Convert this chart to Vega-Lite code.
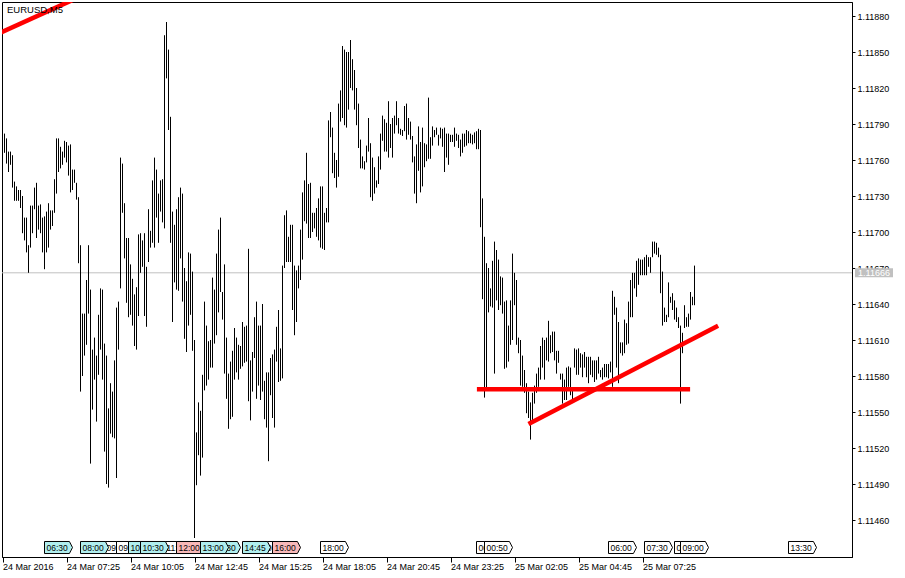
{
"$schema":"https://vega.github.io/schema/vega-lite/v6.json",
"width":850,"height":555,"autosize":"none",
"padding":{"left":2,"top":2,"right":53,"bottom":21},
"background":"white",
"config":{"view":{"stroke":"black","strokeWidth":1},"font":"Liberation Sans",
"axis":{"labelFont":"Liberation Sans","labelFontSize":9,"labelColor":"black","domainColor":"black","tickColor":"black","grid":false,"labelOverlap":false}},
"title":{"text":"EURUSD,M5","anchor":"start","frame":"group","offset":-12,"fontSize":9.5,"fontWeight":"normal","font":"Liberation Sans","color":"black","dx":5},
"datasets":{
"bars":[
{"t":"2016-03-24 04:45","h":1.11782,"l":1.11766},{"t":"2016-03-24 04:50","h":1.11778,"l":1.11757},{"t":"2016-03-24 04:55","h":1.11767,"l":1.1175},{"t":"2016-03-24 05:00","h":1.11767,"l":1.11756},{"t":"2016-03-24 05:05","h":1.11764,"l":1.11737},{"t":"2016-03-24 05:10","h":1.11742,"l":1.11726},{"t":"2016-03-24 05:15","h":1.11738,"l":1.11726},{"t":"2016-03-24 05:20","h":1.11735,"l":1.11726},{"t":"2016-03-24 05:25","h":1.11735,"l":1.1172},{"t":"2016-03-24 05:30","h":1.1173,"l":1.11699},
{"t":"2016-03-24 05:35","h":1.11712,"l":1.11693},{"t":"2016-03-24 05:40","h":1.11712,"l":1.11683},{"t":"2016-03-24 05:45","h":1.11689,"l":1.11666},{"t":"2016-03-24 05:50","h":1.11722,"l":1.11687},{"t":"2016-03-24 05:55","h":1.11722,"l":1.11699},{"t":"2016-03-24 06:00","h":1.11737,"l":1.11719},{"t":"2016-03-24 06:05","h":1.11741,"l":1.11695},{"t":"2016-03-24 06:10","h":1.11722,"l":1.11702},{"t":"2016-03-24 06:15","h":1.11723,"l":1.11699},{"t":"2016-03-24 06:20","h":1.11712,"l":1.11683},
{"t":"2016-03-24 06:25","h":1.11713,"l":1.11669},{"t":"2016-03-24 06:30","h":1.11717,"l":1.11683},{"t":"2016-03-24 06:35","h":1.11724,"l":1.11687},{"t":"2016-03-24 06:40","h":1.11718,"l":1.11702},{"t":"2016-03-24 06:45","h":1.11718,"l":1.11705},{"t":"2016-03-24 06:50","h":1.11744,"l":1.11716},{"t":"2016-03-24 06:55","h":1.11778,"l":1.11732},{"t":"2016-03-24 07:00","h":1.11778,"l":1.1175},{"t":"2016-03-24 07:05","h":1.11771,"l":1.11753},{"t":"2016-03-24 07:10","h":1.11767,"l":1.11756},
{"t":"2016-03-24 07:15","h":1.11776,"l":1.11762},{"t":"2016-03-24 07:20","h":1.11775,"l":1.11758},{"t":"2016-03-24 07:25","h":1.11772,"l":1.11747},{"t":"2016-03-24 07:30","h":1.11773,"l":1.11733},{"t":"2016-03-24 07:35","h":1.11752,"l":1.11735},{"t":"2016-03-24 07:40","h":1.11752,"l":1.11741},{"t":"2016-03-24 07:45","h":1.11741,"l":1.11727},{"t":"2016-03-24 07:50","h":1.11729,"l":1.11674},{"t":"2016-03-24 07:55","h":1.11689,"l":1.11567},{"t":"2016-03-24 08:00","h":1.11632,"l":1.1158},
{"t":"2016-03-24 08:05","h":1.11632,"l":1.11597},{"t":"2016-03-24 08:10","h":1.1166,"l":1.11606},{"t":"2016-03-24 08:15","h":1.11689,"l":1.11632},{"t":"2016-03-24 08:20","h":1.11652,"l":1.11507},{"t":"2016-03-24 08:25","h":1.11602,"l":1.11552},{"t":"2016-03-24 08:30","h":1.11612,"l":1.11577},{"t":"2016-03-24 08:35","h":1.11597,"l":1.11542},{"t":"2016-03-24 08:40","h":1.11631,"l":1.11581},{"t":"2016-03-24 08:45","h":1.11653,"l":1.11602},{"t":"2016-03-24 08:50","h":1.11652,"l":1.11577},
{"t":"2016-03-24 08:55","h":1.11607,"l":1.11517},{"t":"2016-03-24 09:00","h":1.11597,"l":1.1149},{"t":"2016-03-24 09:05","h":1.11553,"l":1.11487},{"t":"2016-03-24 09:10","h":1.11574,"l":1.11532},{"t":"2016-03-24 09:15","h":1.11567,"l":1.11529},{"t":"2016-03-24 09:20","h":1.11593,"l":1.11528},{"t":"2016-03-24 09:25","h":1.11637,"l":1.11495},{"t":"2016-03-24 09:30","h":1.11642,"l":1.11602},{"t":"2016-03-24 09:35","h":1.11762,"l":1.11653},{"t":"2016-03-24 09:40","h":1.11757,"l":1.11716},
{"t":"2016-03-24 09:45","h":1.11724,"l":1.11678},{"t":"2016-03-24 09:50","h":1.11695,"l":1.11641},{"t":"2016-03-24 09:55","h":1.11695,"l":1.11629},{"t":"2016-03-24 10:00","h":1.11673,"l":1.11631},{"t":"2016-03-24 10:05","h":1.11661,"l":1.11622},{"t":"2016-03-24 10:10","h":1.11648,"l":1.11605},{"t":"2016-03-24 10:15","h":1.11654,"l":1.11602},{"t":"2016-03-24 10:20","h":1.11698,"l":1.1163},{"t":"2016-03-24 10:25","h":1.11699,"l":1.11666},{"t":"2016-03-24 10:30","h":1.11693,"l":1.11671},
{"t":"2016-03-24 10:35","h":1.11699,"l":1.1163},{"t":"2016-03-24 10:40","h":1.11671,"l":1.11621},{"t":"2016-03-24 10:45","h":1.11719,"l":1.11675},{"t":"2016-03-24 10:50","h":1.11701,"l":1.11687},{"t":"2016-03-24 10:55","h":1.11743,"l":1.11691},{"t":"2016-03-24 11:00","h":1.11762,"l":1.11687},{"t":"2016-03-24 11:05","h":1.11752,"l":1.11712},{"t":"2016-03-24 11:10","h":1.11732,"l":1.11691},{"t":"2016-03-24 11:15","h":1.11743,"l":1.11717},{"t":"2016-03-24 11:20","h":1.11744,"l":1.11708},
{"t":"2016-03-24 11:25","h":1.11864,"l":1.11703},{"t":"2016-03-24 11:30","h":1.11875,"l":1.11828},{"t":"2016-03-24 11:35","h":1.11852,"l":1.11785},{"t":"2016-03-24 11:40","h":1.11796,"l":1.11691},{"t":"2016-03-24 11:45","h":1.11717,"l":1.11625},{"t":"2016-03-24 11:50","h":1.11706,"l":1.11658},{"t":"2016-03-24 11:55","h":1.11719,"l":1.11652},{"t":"2016-03-24 12:00","h":1.11729,"l":1.11651},{"t":"2016-03-24 12:05","h":1.11737,"l":1.11678},{"t":"2016-03-24 12:10","h":1.11732,"l":1.11642},
{"t":"2016-03-24 12:15","h":1.1167,"l":1.11611},{"t":"2016-03-24 12:20","h":1.11659,"l":1.116},{"t":"2016-03-24 12:25","h":1.11683,"l":1.11622},{"t":"2016-03-24 12:30","h":1.11682,"l":1.11631},{"t":"2016-03-24 12:35","h":1.11667,"l":1.11601},{"t":"2016-03-24 12:40","h":1.1161,"l":1.11445},{"t":"2016-03-24 12:45","h":1.11533,"l":1.11489},{"t":"2016-03-24 12:50","h":1.11558,"l":1.11514},{"t":"2016-03-24 12:55","h":1.11551,"l":1.11497},{"t":"2016-03-24 13:00","h":1.11581,"l":1.11512},
{"t":"2016-03-24 13:05","h":1.11642,"l":1.11568},{"t":"2016-03-24 13:10","h":1.11622,"l":1.11572},{"t":"2016-03-24 13:15","h":1.11609,"l":1.11577},{"t":"2016-03-24 13:20","h":1.1161,"l":1.11587},{"t":"2016-03-24 13:25","h":1.11662,"l":1.11587},{"t":"2016-03-24 13:30","h":1.11652,"l":1.11607},{"t":"2016-03-24 13:35","h":1.11682,"l":1.11614},{"t":"2016-03-24 13:40","h":1.11702,"l":1.11633},{"t":"2016-03-24 13:45","h":1.11712,"l":1.1165},{"t":"2016-03-24 13:50","h":1.1165,"l":1.11627},
{"t":"2016-03-24 13:55","h":1.11673,"l":1.11582},{"t":"2016-03-24 14:00","h":1.11612,"l":1.11561},{"t":"2016-03-24 14:05","h":1.11582,"l":1.11536},{"t":"2016-03-24 14:10","h":1.11592,"l":1.11544},{"t":"2016-03-24 14:15","h":1.11601,"l":1.11546},{"t":"2016-03-24 14:20","h":1.1162,"l":1.11577},{"t":"2016-03-24 14:25","h":1.11612,"l":1.11583},{"t":"2016-03-24 14:30","h":1.11606,"l":1.11577},{"t":"2016-03-24 14:35","h":1.11605,"l":1.11586},{"t":"2016-03-24 14:40","h":1.11625,"l":1.11588},
{"t":"2016-03-24 14:45","h":1.11621,"l":1.11591},{"t":"2016-03-24 14:50","h":1.11622,"l":1.11592},{"t":"2016-03-24 14:55","h":1.11686,"l":1.11559},{"t":"2016-03-24 15:00","h":1.11593,"l":1.11543},{"t":"2016-03-24 15:05","h":1.116,"l":1.11567},{"t":"2016-03-24 15:10","h":1.11629,"l":1.11595},{"t":"2016-03-24 15:15","h":1.11642,"l":1.11561},{"t":"2016-03-24 15:20","h":1.11622,"l":1.11572},{"t":"2016-03-24 15:25","h":1.11622,"l":1.1156},{"t":"2016-03-24 15:30","h":1.1164,"l":1.11567},
{"t":"2016-03-24 15:35","h":1.11576,"l":1.11544},{"t":"2016-03-24 15:40","h":1.11583,"l":1.11537},{"t":"2016-03-24 15:45","h":1.11583,"l":1.11509},{"t":"2016-03-24 15:50","h":1.11595,"l":1.11564},{"t":"2016-03-24 15:55","h":1.11598,"l":1.11545},{"t":"2016-03-24 16:00","h":1.11602,"l":1.11537},{"t":"2016-03-24 16:05","h":1.11621,"l":1.11592},{"t":"2016-03-24 16:10","h":1.11635,"l":1.11575},{"t":"2016-03-24 16:15","h":1.11603,"l":1.11576},{"t":"2016-03-24 16:20","h":1.11672,"l":1.11578},
{"t":"2016-03-24 16:25","h":1.11714,"l":1.1167},{"t":"2016-03-24 16:30","h":1.11718,"l":1.11675},{"t":"2016-03-24 16:35","h":1.11696,"l":1.11675},{"t":"2016-03-24 16:40","h":1.11706,"l":1.11675},{"t":"2016-03-24 16:45","h":1.11706,"l":1.11635},{"t":"2016-03-24 16:50","h":1.11672,"l":1.11614},{"t":"2016-03-24 16:55","h":1.11668,"l":1.11625},{"t":"2016-03-24 17:00","h":1.11672,"l":1.11653},{"t":"2016-03-24 17:05","h":1.11702,"l":1.1166},{"t":"2016-03-24 17:10","h":1.11733,"l":1.11677},
{"t":"2016-03-24 17:15","h":1.11743,"l":1.11709},{"t":"2016-03-24 17:20","h":1.11766,"l":1.11707},{"t":"2016-03-24 17:25","h":1.1174,"l":1.11695},{"t":"2016-03-24 17:30","h":1.11741,"l":1.11695},{"t":"2016-03-24 17:35","h":1.11716,"l":1.117},{"t":"2016-03-24 17:40","h":1.11716,"l":1.11703},{"t":"2016-03-24 17:45","h":1.1172,"l":1.11696},{"t":"2016-03-24 17:50","h":1.11728,"l":1.11693},{"t":"2016-03-24 17:55","h":1.11738,"l":1.11687},{"t":"2016-03-24 18:00","h":1.11738,"l":1.11686},
{"t":"2016-03-24 18:05","h":1.11716,"l":1.11685},{"t":"2016-03-24 18:10","h":1.1172,"l":1.11708},{"t":"2016-03-24 18:15","h":1.11793,"l":1.11708},{"t":"2016-03-24 18:20","h":1.118,"l":1.11779},{"t":"2016-03-24 18:25","h":1.11787,"l":1.11749},{"t":"2016-03-24 18:30","h":1.11766,"l":1.11745},{"t":"2016-03-24 18:35","h":1.1176,"l":1.11737},{"t":"2016-03-24 18:40","h":1.11807,"l":1.11746},{"t":"2016-03-24 18:45","h":1.11818,"l":1.11792},{"t":"2016-03-24 18:50","h":1.11855,"l":1.11795},
{"t":"2016-03-24 18:55","h":1.11852,"l":1.11789},{"t":"2016-03-24 19:00","h":1.1185,"l":1.11787},{"t":"2016-03-24 19:05","h":1.1185,"l":1.11802},{"t":"2016-03-24 19:10","h":1.1186,"l":1.1182},{"t":"2016-03-24 19:15","h":1.11844,"l":1.11818},{"t":"2016-03-24 19:20","h":1.11835,"l":1.11802},{"t":"2016-03-24 19:25","h":1.1182,"l":1.11789},{"t":"2016-03-24 19:30","h":1.11807,"l":1.1177},{"t":"2016-03-24 19:35","h":1.11777,"l":1.11753},{"t":"2016-03-24 19:40","h":1.11763,"l":1.11753},
{"t":"2016-03-24 19:45","h":1.11759,"l":1.11752},{"t":"2016-03-24 19:50","h":1.11772,"l":1.11758},{"t":"2016-03-24 19:55","h":1.11795,"l":1.11767},{"t":"2016-03-24 20:00","h":1.11774,"l":1.11729},{"t":"2016-03-24 20:05","h":1.11762,"l":1.11726},{"t":"2016-03-24 20:10","h":1.11754,"l":1.11732},{"t":"2016-03-24 20:15","h":1.11743,"l":1.11737},{"t":"2016-03-24 20:20","h":1.11763,"l":1.1174},{"t":"2016-03-24 20:25","h":1.11782,"l":1.11752},{"t":"2016-03-24 20:30","h":1.11797,"l":1.11776},
{"t":"2016-03-24 20:35","h":1.11794,"l":1.11767},{"t":"2016-03-24 20:40","h":1.11791,"l":1.11767},{"t":"2016-03-24 20:45","h":1.11809,"l":1.11762},{"t":"2016-03-24 20:50","h":1.1179,"l":1.1177},{"t":"2016-03-24 20:55","h":1.11795,"l":1.11762},{"t":"2016-03-24 21:00","h":1.11797,"l":1.11782},{"t":"2016-03-24 21:05","h":1.11809,"l":1.11789},{"t":"2016-03-24 21:10","h":1.11795,"l":1.11782},{"t":"2016-03-24 21:15","h":1.11786,"l":1.11781},{"t":"2016-03-24 21:20","h":1.11785,"l":1.1178},
{"t":"2016-03-24 21:25","h":1.11805,"l":1.11784},{"t":"2016-03-24 21:30","h":1.11807,"l":1.11777},{"t":"2016-03-24 21:35","h":1.11795,"l":1.11781},{"t":"2016-03-24 21:40","h":1.11792,"l":1.11777},{"t":"2016-03-24 21:45","h":1.1178,"l":1.11758},{"t":"2016-03-24 21:50","h":1.11763,"l":1.11732},{"t":"2016-03-24 21:55","h":1.11773,"l":1.11724},{"t":"2016-03-24 22:00","h":1.11788,"l":1.11751},{"t":"2016-03-24 22:05","h":1.11775,"l":1.11733},{"t":"2016-03-24 22:10","h":1.11787,"l":1.11738},
{"t":"2016-03-24 22:15","h":1.11774,"l":1.11754},{"t":"2016-03-24 22:20","h":1.11773,"l":1.11759},{"t":"2016-03-24 22:25","h":1.11812,"l":1.11761},{"t":"2016-03-24 22:30","h":1.11779,"l":1.11761},{"t":"2016-03-24 22:35","h":1.11788,"l":1.11772},{"t":"2016-03-24 22:40","h":1.11785,"l":1.11779},{"t":"2016-03-24 22:45","h":1.11787,"l":1.11781},{"t":"2016-03-24 22:50","h":1.11781,"l":1.11772},{"t":"2016-03-24 22:55","h":1.11787,"l":1.11778},{"t":"2016-03-24 23:00","h":1.11786,"l":1.11771},
{"t":"2016-03-24 23:05","h":1.11787,"l":1.1175},{"t":"2016-03-24 23:10","h":1.11782,"l":1.11762},{"t":"2016-03-24 23:15","h":1.11782,"l":1.11756},{"t":"2016-03-24 23:20","h":1.11781,"l":1.11775},{"t":"2016-03-24 23:25","h":1.11781,"l":1.11775},{"t":"2016-03-24 23:30","h":1.11787,"l":1.11771},{"t":"2016-03-24 23:35","h":1.11782,"l":1.11776},{"t":"2016-03-24 23:40","h":1.11781,"l":1.1177},{"t":"2016-03-24 23:45","h":1.11777,"l":1.11763},{"t":"2016-03-24 23:50","h":1.11782,"l":1.11766},
{"t":"2016-03-24 23:55","h":1.11782,"l":1.11771},{"t":"2016-03-25 00:00","h":1.11785,"l":1.11772},{"t":"2016-03-25 00:05","h":1.11784,"l":1.11774},{"t":"2016-03-25 00:10","h":1.11782,"l":1.11774},{"t":"2016-03-25 00:15","h":1.11781,"l":1.11773},{"t":"2016-03-25 00:20","h":1.11783,"l":1.11774},{"t":"2016-03-25 00:25","h":1.11784,"l":1.11769},{"t":"2016-03-25 00:30","h":1.11786,"l":1.11769},{"t":"2016-03-25 00:35","h":1.11785,"l":1.11704},{"t":"2016-03-25 00:40","h":1.11728,"l":1.11644},
{"t":"2016-03-25 00:45","h":1.11696,"l":1.11562},{"t":"2016-03-25 00:50","h":1.11674,"l":1.11568},{"t":"2016-03-25 00:55","h":1.1167,"l":1.11633},{"t":"2016-03-25 01:00","h":1.11653,"l":1.11638},{"t":"2016-03-25 01:05","h":1.11676,"l":1.11637},{"t":"2016-03-25 01:10","h":1.11692,"l":1.11582},{"t":"2016-03-25 01:15","h":1.11685,"l":1.11643},{"t":"2016-03-25 01:20","h":1.11677,"l":1.11635},{"t":"2016-03-25 01:25","h":1.11663,"l":1.11639},{"t":"2016-03-25 01:30","h":1.11662,"l":1.11632},
{"t":"2016-03-25 01:35","h":1.11642,"l":1.11586},{"t":"2016-03-25 01:40","h":1.11643,"l":1.11587},{"t":"2016-03-25 01:45","h":1.11622,"l":1.11592},{"t":"2016-03-25 01:50","h":1.11643,"l":1.11606},{"t":"2016-03-25 01:55","h":1.11682,"l":1.1161},{"t":"2016-03-25 02:00","h":1.11666,"l":1.11639},{"t":"2016-03-25 02:05","h":1.1166,"l":1.11606},{"t":"2016-03-25 02:10","h":1.11612,"l":1.11599},{"t":"2016-03-25 02:15","h":1.1161,"l":1.11572},{"t":"2016-03-25 02:20","h":1.11597,"l":1.11571},
{"t":"2016-03-25 02:25","h":1.11585,"l":1.11566},{"t":"2016-03-25 02:30","h":1.11574,"l":1.11549},{"t":"2016-03-25 02:35","h":1.11567,"l":1.11545},{"t":"2016-03-25 02:40","h":1.11558,"l":1.11527},{"t":"2016-03-25 02:45","h":1.11566,"l":1.11543},{"t":"2016-03-25 02:50","h":1.11572,"l":1.11557},{"t":"2016-03-25 02:55","h":1.11582,"l":1.11566},{"t":"2016-03-25 03:00","h":1.11587,"l":1.11571},{"t":"2016-03-25 03:05","h":1.11605,"l":1.11577},{"t":"2016-03-25 03:10","h":1.11612,"l":1.11587},
{"t":"2016-03-25 03:15","h":1.1161,"l":1.11577},{"t":"2016-03-25 03:20","h":1.11612,"l":1.11593},{"t":"2016-03-25 03:25","h":1.11626,"l":1.11592},{"t":"2016-03-25 03:30","h":1.11614,"l":1.11599},{"t":"2016-03-25 03:35","h":1.11617,"l":1.116},{"t":"2016-03-25 03:40","h":1.11617,"l":1.11593},{"t":"2016-03-25 03:45","h":1.11601,"l":1.11582},{"t":"2016-03-25 03:50","h":1.11601,"l":1.11591},{"t":"2016-03-25 03:55","h":1.11582,"l":1.11577},{"t":"2016-03-25 04:00","h":1.11582,"l":1.11557},
{"t":"2016-03-25 04:05","h":1.11577,"l":1.1156},{"t":"2016-03-25 04:10","h":1.11587,"l":1.1156},{"t":"2016-03-25 04:15","h":1.11588,"l":1.11571},{"t":"2016-03-25 04:20","h":1.11587,"l":1.11564},{"t":"2016-03-25 04:25","h":1.11568,"l":1.1156},{"t":"2016-03-25 04:30","h":1.11603,"l":1.11587},{"t":"2016-03-25 04:35","h":1.11602,"l":1.11581},{"t":"2016-03-25 04:40","h":1.11603,"l":1.11581},{"t":"2016-03-25 04:45","h":1.11599,"l":1.11587},{"t":"2016-03-25 04:50","h":1.11598,"l":1.11579},
{"t":"2016-03-25 04:55","h":1.116,"l":1.11587},{"t":"2016-03-25 05:00","h":1.11596,"l":1.11579},{"t":"2016-03-25 05:05","h":1.11596,"l":1.11574},{"t":"2016-03-25 05:10","h":1.11596,"l":1.11581},{"t":"2016-03-25 05:15","h":1.11593,"l":1.11579},{"t":"2016-03-25 05:20","h":1.11593,"l":1.11575},{"t":"2016-03-25 05:25","h":1.11593,"l":1.11577},{"t":"2016-03-25 05:30","h":1.11596,"l":1.11582},{"t":"2016-03-25 05:35","h":1.11585,"l":1.11579},{"t":"2016-03-25 05:40","h":1.11587,"l":1.11577},
{"t":"2016-03-25 05:45","h":1.1159,"l":1.11579},{"t":"2016-03-25 05:50","h":1.1159,"l":1.11579},{"t":"2016-03-25 05:55","h":1.1159,"l":1.11578},{"t":"2016-03-25 06:00","h":1.11592,"l":1.11583},{"t":"2016-03-25 06:05","h":1.11651,"l":1.11571},{"t":"2016-03-25 06:10","h":1.11646,"l":1.11631},{"t":"2016-03-25 06:15","h":1.11637,"l":1.11587},{"t":"2016-03-25 06:20","h":1.11625,"l":1.11574},{"t":"2016-03-25 06:25","h":1.11608,"l":1.11599},{"t":"2016-03-25 06:30","h":1.11608,"l":1.11597},
{"t":"2016-03-25 06:35","h":1.11627,"l":1.11599},{"t":"2016-03-25 06:40","h":1.11624,"l":1.11606},{"t":"2016-03-25 06:45","h":1.11642,"l":1.11607},{"t":"2016-03-25 06:50","h":1.1166,"l":1.11629},{"t":"2016-03-25 06:55","h":1.11666,"l":1.11629},{"t":"2016-03-25 07:00","h":1.11666,"l":1.11653},{"t":"2016-03-25 07:05","h":1.11676,"l":1.11646},{"t":"2016-03-25 07:10","h":1.11678,"l":1.11656},{"t":"2016-03-25 07:15","h":1.11677,"l":1.11664},{"t":"2016-03-25 07:20","h":1.11677,"l":1.11664},
{"t":"2016-03-25 07:25","h":1.11679,"l":1.11664},{"t":"2016-03-25 07:30","h":1.11681,"l":1.11664},{"t":"2016-03-25 07:35","h":1.11679,"l":1.11671},{"t":"2016-03-25 07:40","h":1.11679,"l":1.11666},{"t":"2016-03-25 07:45","h":1.11692,"l":1.11679},{"t":"2016-03-25 07:50","h":1.11692,"l":1.11682},{"t":"2016-03-25 07:55","h":1.11691,"l":1.11681},{"t":"2016-03-25 08:00","h":1.11687,"l":1.11679},{"t":"2016-03-25 08:05","h":1.11681,"l":1.11649},{"t":"2016-03-25 08:10","h":1.11667,"l":1.11622},
{"t":"2016-03-25 08:15","h":1.11637,"l":1.11625},{"t":"2016-03-25 08:20","h":1.11631,"l":1.11625},{"t":"2016-03-25 08:25","h":1.11658,"l":1.11629},{"t":"2016-03-25 08:30","h":1.11646,"l":1.11641},{"t":"2016-03-25 08:35","h":1.11649,"l":1.11635},{"t":"2016-03-25 08:40","h":1.11643,"l":1.11627},{"t":"2016-03-25 08:45","h":1.11637,"l":1.11625},{"t":"2016-03-25 08:50","h":1.11629,"l":1.1162},{"t":"2016-03-25 08:55","h":1.11622,"l":1.11557},{"t":"2016-03-25 09:00","h":1.11616,"l":1.11599},
{"t":"2016-03-25 09:05","h":1.11639,"l":1.1162},{"t":"2016-03-25 09:10","h":1.11629,"l":1.11621},{"t":"2016-03-25 09:15","h":1.11632,"l":1.11621},{"t":"2016-03-25 09:20","h":1.1165,"l":1.11627},{"t":"2016-03-25 09:25","h":1.11646,"l":1.11639},{"t":"2016-03-25 09:30","h":1.11672,"l":1.11639}
],
"cal":[
{"t":"2016-03-24 06:30","kind":"medium"},{"t":"2016-03-24 08:00","kind":"medium"},{"t":"2016-03-24 09:00","kind":"low"},{"t":"2016-03-24 09:30","kind":"low"},{"t":"2016-03-24 10:00","kind":"medium"},{"t":"2016-03-24 10:30","kind":"medium"},{"t":"2016-03-24 11:30","kind":"low"},{"t":"2016-03-24 12:00","kind":"high"},{"t":"2016-03-24 13:00","kind":"medium"},{"t":"2016-03-24 13:30","kind":"medium"},{"t":"2016-03-24 14:45","kind":"medium"},{"t":"2016-03-24 15:00","kind":"low"},{"t":"2016-03-24 16:00","kind":"high"},{"t":"2016-03-24 18:00","kind":"low"},
{"t":"2016-03-25 00:30","kind":"low"},{"t":"2016-03-25 00:50","kind":"low"},{"t":"2016-03-25 06:00","kind":"low"},{"t":"2016-03-25 07:30","kind":"low"},{"t":"2016-03-25 08:45","kind":"low"},{"t":"2016-03-25 09:00","kind":"low"},{"t":"2016-03-25 13:30","kind":"low"}
],
"lines":[
{"id":"a","t":"2016-03-24 03:45","p":1.118585},{"id":"a","t":"2016-03-24 08:20","p":1.119001},
{"id":"b","t":"2016-03-25 00:26","p":1.115689},{"id":"b","t":"2016-03-25 09:19","p":1.115689},
{"id":"c","t":"2016-03-25 02:35","p":1.1154},{"id":"c","t":"2016-03-25 10:29","p":1.116218}
],
"price":[{"p":1.11666}]
},
"layer":[
{"data":{"name":"price"},"mark":{"type":"rule","color":"#c0c0c0","strokeWidth":1},
 "encoding":{"y":{"field":"p","type":"quantitative"}}},
{"data":{"name":"bars","format":{"parse":{"t":"date:'%Y-%m-%d %H:%M'"}}},
 "mark":{"type":"rule","color":"black","strokeWidth":1},
 "encoding":{
  "x":{"field":"t","type":"temporal",
   "scale":{"type":"time","nice":false,"domain":[{"year":2016,"month":3,"date":24,"hours":4,"minutes":38,"seconds":45},{"year":2016,"month":3,"date":25,"hours":16,"minutes":3,"seconds":45}]},
   "axis":{"orient":"bottom","title":null,"values":[
{"year":2016,"month":3,"date":24,"hours":4,"minutes":45},{"year":2016,"month":3,"date":24,"hours":7,"minutes":25},{"year":2016,"month":3,"date":24,"hours":10,"minutes":5},{"year":2016,"month":3,"date":24,"hours":12,"minutes":45},{"year":2016,"month":3,"date":24,"hours":15,"minutes":25},{"year":2016,"month":3,"date":24,"hours":18,"minutes":5},{"year":2016,"month":3,"date":24,"hours":20,"minutes":45},{"year":2016,"month":3,"date":24,"hours":23,"minutes":25},{"year":2016,"month":3,"date":25,"hours":2,"minutes":5},{"year":2016,"month":3,"date":25,"hours":4,"minutes":45},{"year":2016,"month":3,"date":25,"hours":7,"minutes":25}],
    "labelExpr":"timeFormat(datum.value, '%d %H:%M') == '24 04:45' ? '24 Mar 2016' : timeFormat(datum.value, '%d %b %H:%M')",
    "labelAlign":"left","labelBaseline":"top","labelPadding":0,"tickSize":5,"tickOffset":-2,"tickCount":30,"labelOverlap":false,"labelFlush":false,"grid":false}},
  "y":{"field":"h","type":"quantitative","scale":{"domain":[1.1142917,1.1189167],"nice":false,"zero":false},
   "axis":{"orient":"right","title":null,"values":[1.1146,1.1149,1.1152,1.1155,1.1158,1.1161,1.1164,1.1167,1.117,1.1173,1.1176,1.1179,1.1182,1.1185,1.1188],"tickCount":30,"format":".5f","tickSize":3,"labelPadding":2,"labelAlign":"left","labelBaseline":"middle","labelOverlap":false,"grid":false}},
  "y2":{"field":"l"}}},
{"data":{"name":"lines","format":{"parse":{"t":"date:'%Y-%m-%d %H:%M'"}}},
 "mark":{"type":"line","color":"#ff0000","strokeWidth":4.5,"clip":true,"strokeCap":"butt"},
 "encoding":{"x":{"field":"t","type":"temporal"},"y":{"field":"p","type":"quantitative"},"detail":{"field":"id"}}},
{"data":{"name":"price"},"mark":{"type":"rect","color":"#c0c0c0","yOffset":-4.5,"y2Offset":4.5},
 "encoding":{"x":{"datum":{"year":2016,"month":3,"date":25,"hours":16,"minutes":11,"seconds":15},"type":"temporal"},
  "x2":{"datum":{"year":2016,"month":3,"date":25,"hours":17,"minutes":46,"seconds":15}},
  "y":{"field":"p","type":"quantitative"},"y2":{"field":"p"}}},
{"data":{"name":"price"},"mark":{"type":"text","color":"white","fontSize":9,"align":"center","baseline":"middle"},
 "encoding":{"x":{"datum":{"year":2016,"month":3,"date":25,"hours":16,"minutes":58,"seconds":45},"type":"temporal"},
  "y":{"field":"p","type":"quantitative"},"text":{"field":"p","type":"quantitative","format":".5f"}}},
{"data":{"name":"cal","format":{"parse":{"t":"date:'%Y-%m-%d %H:%M'"}}},
 "encoding":{"x":{"field":"t","type":"temporal"},"y":{"datum":1.1143708,"type":"quantitative"}},
 "layer":[
  {"transform":[{"filter":"indexof(['24 09:00','24 13:30','24 15:00','25 00:30','25 08:45'], timeFormat(datum.t, '%d %H:%M')) >= 0"}],
   "layer":[
    {"mark":{"type":"point","shape":"M-1,-0.43L0.78,-0.43L1,0L0.78,0.43L-1,0.43Z","size":784,"filled":true,"stroke":"black","strokeWidth":1,"opacity":1,"xOffset":12},
     "encoding":{"fill":{"field":"kind","type":"nominal","scale":{"domain":["low","medium","high"],"range":["#ffffff","#b0eeee","#f8b8b8"]},"legend":null}}},
    {"mark":{"type":"text","align":"left","baseline":"middle","fontSize":8.5,"color":"black"},
     "encoding":{"text":{"field":"t","type":"temporal","format":"%H:%M"}}}]},
  {"transform":[{"filter":"indexof(['24 06:30','24 08:00','24 09:30','24 11:30','24 14:45','24 16:00','24 18:00','25 00:50','25 06:00','25 07:30','25 09:00','25 13:30'], timeFormat(datum.t, '%d %H:%M')) >= 0"}],
   "layer":[
    {"mark":{"type":"point","shape":"M-1,-0.43L0.78,-0.43L1,0L0.78,0.43L-1,0.43Z","size":784,"filled":true,"stroke":"black","strokeWidth":1,"opacity":1,"xOffset":12},
     "encoding":{"fill":{"field":"kind","type":"nominal","legend":null}}},
    {"mark":{"type":"text","align":"left","baseline":"middle","fontSize":8.5,"color":"black"},
     "encoding":{"text":{"field":"t","type":"temporal","format":"%H:%M"}}}]},
  {"transform":[{"filter":"indexof(['24 10:00','24 12:00'], timeFormat(datum.t, '%d %H:%M')) >= 0"}],
   "layer":[
    {"mark":{"type":"point","shape":"M-1,-0.43L0.78,-0.43L1,0L0.78,0.43L-1,0.43Z","size":784,"filled":true,"stroke":"black","strokeWidth":1,"opacity":1,"xOffset":12},
     "encoding":{"fill":{"field":"kind","type":"nominal","legend":null}}},
    {"mark":{"type":"text","align":"left","baseline":"middle","fontSize":8.5,"color":"black"},
     "encoding":{"text":{"field":"t","type":"temporal","format":"%H:%M"}}}]},
  {"transform":[{"filter":"indexof(['24 10:30','24 13:00'], timeFormat(datum.t, '%d %H:%M')) >= 0"}],
   "layer":[
    {"mark":{"type":"point","shape":"M-1,-0.43L0.78,-0.43L1,0L0.78,0.43L-1,0.43Z","size":784,"filled":true,"stroke":"black","strokeWidth":1,"opacity":1,"xOffset":12},
     "encoding":{"fill":{"field":"kind","type":"nominal","legend":null}}},
    {"mark":{"type":"text","align":"left","baseline":"middle","fontSize":8.5,"color":"black"},
     "encoding":{"text":{"field":"t","type":"temporal","format":"%H:%M"}}}]}
 ]}
]
}
